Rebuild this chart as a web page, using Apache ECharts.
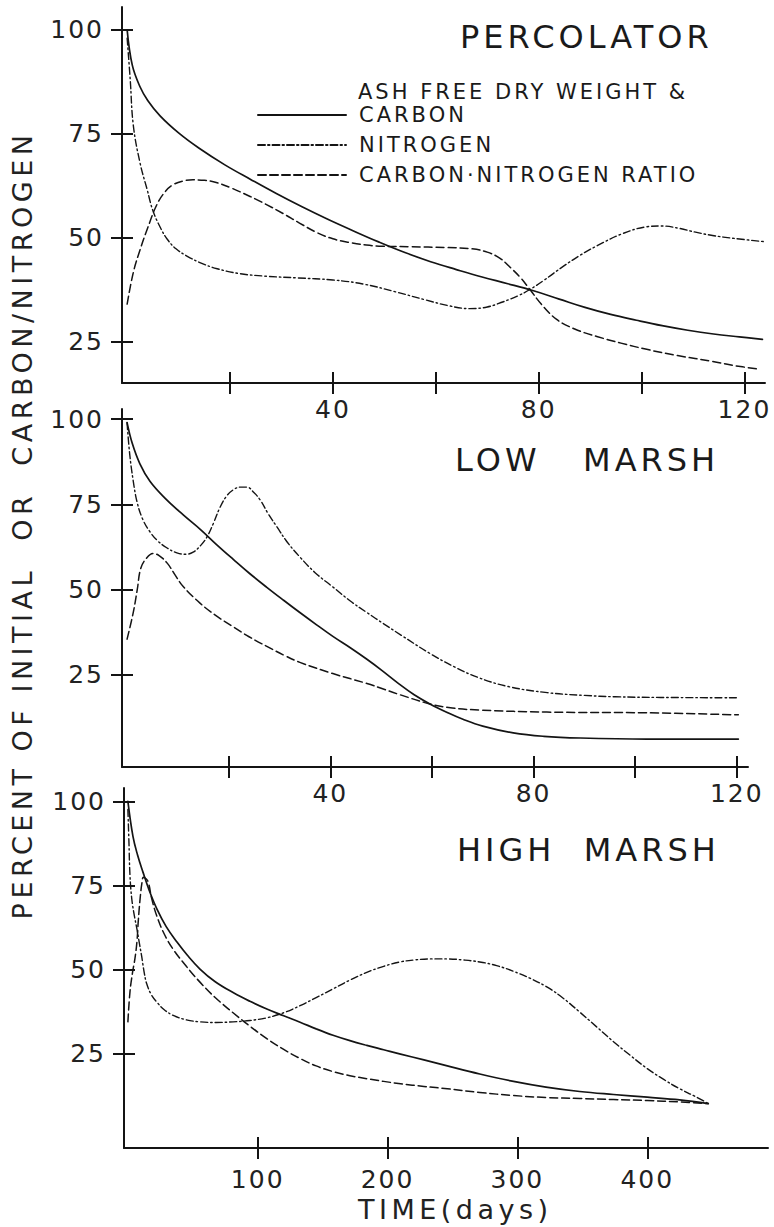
<!DOCTYPE html>
<html>
<head>
<meta charset="utf-8">
<script src="https://cdn.jsdelivr.net/npm/echarts@6/dist/echarts.min.js"></script>
<style>
  html, body { margin: 0; padding: 0; background: #fff; }
  #chart { width: 774px; height: 1227px; }
  #chart text { white-space: pre; }
  #chart text[style*="32px"] { letter-spacing: 4px; }
  #chart text[style*="21px"] { letter-spacing: 3px; }
  #chart text[style*="27px"] { letter-spacing: 4.5px; }
  #chart text[style*="25px"] { letter-spacing: 2px; }
</style>
</head>
<body>
<div id="chart"></div>
<script>
// ---------- DATA ----------
const seriesNames = ['ASH FREE DRY WEIGHT & CARBON', 'NITROGEN', 'CARBON·NITROGEN RATIO'];
const panelTitles = ['PERCOLATOR', 'LOW   MARSH', 'HIGH  MARSH'];
const yTicks = [25, 50, 75, 100];
const xTicksShort = [20, 40, 60, 80, 100, 120];
const xLabelsShort = [40, 80, 120];
const xTicksLong = [100, 200, 300, 400];
const xLabelsLong = [100, 200, 300, 400];

// Percolator  [day, percent]
const percCarbon = [[0,100],[1,91.5],[2.5,86.3],[4,83],[6.4,79.3],[10,75.2],[14,71.5],[19,67.5],[24,64],[29,60.6],[34,57.4],[39,54.4],[44,51.6],[49,48.9],[54,46.4],[59,44.2],[64,42.3],[69,40.5],[74,38.9],[79,37.2],[84,35.2],[89,33.2],[94,31.5],[99,30.1],[104,28.8],[109,27.7],[114,26.8],[119,26.1],[123.5,25.5]];
const percNitrogen = [[0,98],[0.6,88],[1.2,77],[2.5,68],[3.9,61.5],[5,56.5],[6.5,52.3],[7.8,49.6],[9.5,47.3],[11.7,45.5],[14.5,43.8],[17.5,42.5],[22,41.3],[27,40.7],[33,40.3],[40,39.8],[46,38.8],[52,37],[58,35],[62.5,33.6],[66.6,32.9],[70,33.3],[73,34.5],[76,36],[78.3,37.5],[81,39.7],[84.7,43],[88,45.7],[91.3,48],[96,50.8],[101,52.6],[104,52.8],[107.4,52.2],[110.5,51.3],[113.8,50.5],[118,49.8],[124,49]];
const percRatio = [[0,34],[1.2,41.6],[2.5,47],[3.9,52],[5.8,58],[7.5,61.2],[8.9,62.7],[10.8,63.6],[12.8,63.9],[15,63.8],[17.5,63.2],[20.5,61.8],[23.9,59.9],[27,58],[30.3,55.8],[33.5,53.5],[36.9,51.2],[40,49.7],[43.3,48.8],[46.5,48.2],[49.7,47.9],[55,47.8],[62,47.6],[67,47.3],[70,46.5],[72.5,45],[74.5,42.8],[76.5,40.3],[78.3,37.5],[80.5,34],[83.5,30.3],[87,28],[91.3,26.2],[96,24.6],[101,23.1],[107,21.6],[113.8,20.2],[118,19.2],[123,18.3]];

// Low marsh
const lowCarbon = [[0,99],[1,93],[2.5,87],[4.5,81.8],[7.5,76.8],[11,72],[14.4,67.7],[17.5,63.4],[20.9,58.9],[24,54.9],[27.5,50.7],[30.8,46.9],[34,43.3],[37.3,39.7],[40.5,36.3],[44,32.9],[47.2,29.6],[50,26.5],[53.5,22.4],[56.5,19.2],[59.6,16.5],[63,14],[66.1,12],[70,10],[76,8],[82,7],[89.2,6.5],[102.3,6.2],[120.3,6.2]];
const lowNitrogen = [[0,99],[0.5,90],[1.2,82],[2,75.5],[3.1,70.6],[4.5,67],[5.9,64.5],[7.8,62.3],[9.8,60.8],[11.5,60.4],[13,61],[14.5,63],[15.7,65.4],[17,69.5],[18.3,74.2],[19.6,77.5],[20.9,79.3],[22.3,80.1],[23.6,80.1],[24.9,78.6],[26.2,76.3],[27.8,72.2],[29.5,68.4],[31.5,64],[34,59.6],[37,55],[40.5,50.8],[44,46.6],[47.2,43.3],[50.5,40],[54,36.6],[59.6,31.3],[64.5,27.3],[69,24.3],[75,21.6],[82.7,19.8],[90,19],[96,18.6],[105,18.4],[120.3,18.3]];
const lowRatio = [[0,35.5],[1.2,43.2],[2,50],[2.7,56.3],[3.9,59.4],[5.1,60.6],[6.3,60],[7.9,57.8],[9.5,54.2],[11,51],[14.4,46],[17.5,42.4],[20.9,39.1],[24,36.2],[27.6,33.3],[31,30.7],[34,28.7],[40.5,25.4],[47.2,22.5],[50,21.1],[53.7,19.2],[59.6,16.5],[64,15.3],[69.5,14.7],[82.6,14.1],[102,13.9],[120.3,13.3]];

// High marsh
const highCarbon = [[0,100],[3.9,89.6],[7.5,84],[11.6,79],[16.5,73.5],[22.4,68],[29.5,62.8],[37.8,58.2],[46,54.2],[55.5,50.2],[67,46.5],[81,43.2],[94,40.6],[107,38.3],[120,36.3],[132.6,34.4],[145,32.4],[158,30.5],[171,28.9],[184,27.5],[197,26.2],[210,24.9],[228,23.2],[246,21.4],[271,19],[297,16.8],[322,15.1],[348,13.8],[374,12.9],[400,12.1],[425,11.3],[447,10.2]];
const highNitrogen = [[0,97.6],[0.8,88],[1.6,78],[3,71],[5,66],[7,62],[9,57.5],[10.6,54],[12.5,49.3],[14.5,45.8],[18,42.6],[22.2,40.4],[28,38.1],[34.9,36.4],[45,35.1],[55.5,34.5],[68,34.3],[81,34.5],[94,34.9],[107,35.7],[120,37.2],[132.6,39.3],[145,41.7],[158,44.3],[171,46.9],[184,49.2],[197,51],[209.6,52.3],[221,52.9],[233,53.2],[246,53.2],[258,52.9],[271,52.3],[284,51.2],[297,49.5],[310,47.4],[323,44.8],[335,41.6],[348,37.4],[361,33],[374,28.6],[387,24.5],[400,20.6],[413,17.3],[425,14.6],[437,12.3],[447,10.2]];
const highRatio = [[0,34.5],[1.6,43.4],[3.5,49],[5.5,53.5],[7,58.5],[8,64.5],[9.5,71.5],[10.9,76],[11.9,77.5],[13.5,77.2],[15.7,76],[18.3,71.2],[22.2,66],[28,60.6],[35,56],[45,51],[55.5,46.3],[67,41.8],[81,37.2],[94,33.2],[107,29.5],[120,26.3],[132.6,23.6],[145,21.4],[158,19.7],[171,18.5],[184,17.6],[197,16.8],[210,16.1],[228,15.3],[246,14.6],[271,13.5],[297,12.6],[322,12],[348,11.7],[374,11.4],[400,11.1],[425,10.7],[447,10.2]];

// ---------- LAYOUT / STYLE ----------
const FONT = 'DejaVu Sans';
const INK = '#141414';
const panels = [
  { grid: { left: 122, top: 7, width: 643, height: 376 }, xMin: -1, xMax: 124, yMin: 15, yMax: 105.5,
    xTicks: xTicksShort, xLabels: xLabelsShort, xMargin: 14, data: [percCarbon, percNitrogen, percRatio] },
  { grid: { left: 122, top: 409, width: 626, height: 358 }, xMin: -1, xMax: 122.2, yMin: -2, yMax: 103,
    xTicks: xTicksShort, xLabels: xLabelsShort, xMargin: 14, data: [lowCarbon, lowNitrogen, lowRatio] },
  { grid: { left: 124, top: 788, width: 644, height: 360 }, xMin: -3, xMax: 493, yMin: -3, yMax: 104,
    xTicks: xTicksLong, xLabels: xLabelsLong, xMargin: 19, data: [highCarbon, highNitrogen, highRatio] }
];
const lineStyles = [
  { width: 1.7, type: 'solid' },
  { width: 1.4, type: [7, 3, 1.5, 3] },
  { width: 1.5, type: [8, 4] }
];
const titleTops = [21, 444, 834];
const titleLefts = [460, 455, 457];

const grids = [], xAxes = [], yAxes = [], series = [];
panels.forEach((p) => { grids.push(Object.assign({ containLabel: false }, p.grid)); });
// overlay grids carrying the inward half of the crossing ticks
panels.forEach((p) => { grids.push(Object.assign({ containLabel: false }, p.grid)); });

function makeX(p, gi, overlay) {
  return {
    type: 'value', gridIndex: gi, min: p.xMin, max: p.xMax, position: 'bottom',
    splitLine: { show: false },
    axisLine: { show: !overlay, onZero: false, lineStyle: { color: INK, width: 2 } },
    axisTick: { show: true, inside: overlay, length: 11, customValues: p.xTicks, lineStyle: { color: INK, width: 2 } },
    axisLabel: { show: !overlay, customValues: p.xLabels, margin: p.xMargin, color: '#222', fontSize: 25, fontFamily: FONT }
  };
}
function makeY(p, gi, overlay) {
  return {
    type: 'value', gridIndex: gi, min: p.yMin, max: p.yMax, position: 'left',
    splitLine: { show: false },
    axisLine: { show: !overlay, onZero: false, lineStyle: { color: INK, width: 2 } },
    axisTick: { show: true, inside: overlay, length: 11, customValues: yTicks, lineStyle: { color: INK, width: 2 } },
    axisLabel: { show: !overlay, customValues: yTicks, margin: 18, color: '#222', fontSize: 25, fontFamily: FONT }
  };
}
panels.forEach((p, i) => { xAxes.push(makeX(p, i, false)); yAxes.push(makeY(p, i, false)); });
panels.forEach((p, i) => { xAxes.push(makeX(p, i + 3, true)); yAxes.push(makeY(p, i + 3, true)); });

panels.forEach((p, i) => {
  p.data.forEach((d, k) => {
    series.push({
      type: 'line', name: seriesNames[k], xAxisIndex: i, yAxisIndex: i,
      data: d, showSymbol: false, symbol: 'none', smooth: 0.4,
      lineStyle: Object.assign({ color: INK, cap: 'round', join: 'round' }, lineStyles[k]),
      itemStyle: { color: INK },
      emphasis: { disabled: true }
    });
  });
});

const titles = panelTitles.map((t, i) => ({
  text: t, left: titleLefts[i], top: titleTops[i], padding: 0,
  textStyle: { fontSize: 32, fontWeight: 'normal', fontFamily: FONT, color: '#1a1a1a' }
}));
titles.push({
  text: 'ASH FREE DRY WEIGHT &', left: 358, top: 81, padding: 0,
  textStyle: { fontSize: 21, fontWeight: 'normal', fontFamily: FONT, color: '#1a1a1a' }
});
titles.push({
  text: 'TIME(days)', left: 358, top: 1196, padding: 0,
  textStyle: { fontSize: 27, fontWeight: 'normal', fontFamily: FONT, color: '#222' }
});

const option = {
  backgroundColor: '#ffffff',
  animation: false,
  color: [INK],
  title: titles,
  legend: {
    data: seriesNames, orient: 'vertical', left: 257, top: 104, padding: 0,
    itemWidth: 88, itemHeight: 14, itemGap: 8, selectedMode: false,
    itemStyle: { opacity: 0, borderWidth: 0 },
    formatter: (n) => n === seriesNames[0] ? 'CARBON' : n,
    textStyle: { fontSize: 21, lineHeight: 22, color: '#1a1a1a', fontFamily: FONT, padding: [0, 0, 0, 8] }
  },
  grid: grids,
  xAxis: xAxes,
  yAxis: yAxes,
  series: series,
  graphic: [{
    type: 'text', x: 22, y: 525, rotation: Math.PI / 2,
    style: { text: 'PERCENT OF INITIAL  OR  CARBON/NITROGEN', fontSize: 27, fontFamily: FONT,
             fill: '#222', textAlign: 'center', textVerticalAlign: 'middle' }
  }]
};

const chart = echarts.init(document.getElementById('chart'), null, { renderer: 'svg' });
chart.setOption(option);
</script>
</body>
</html>
